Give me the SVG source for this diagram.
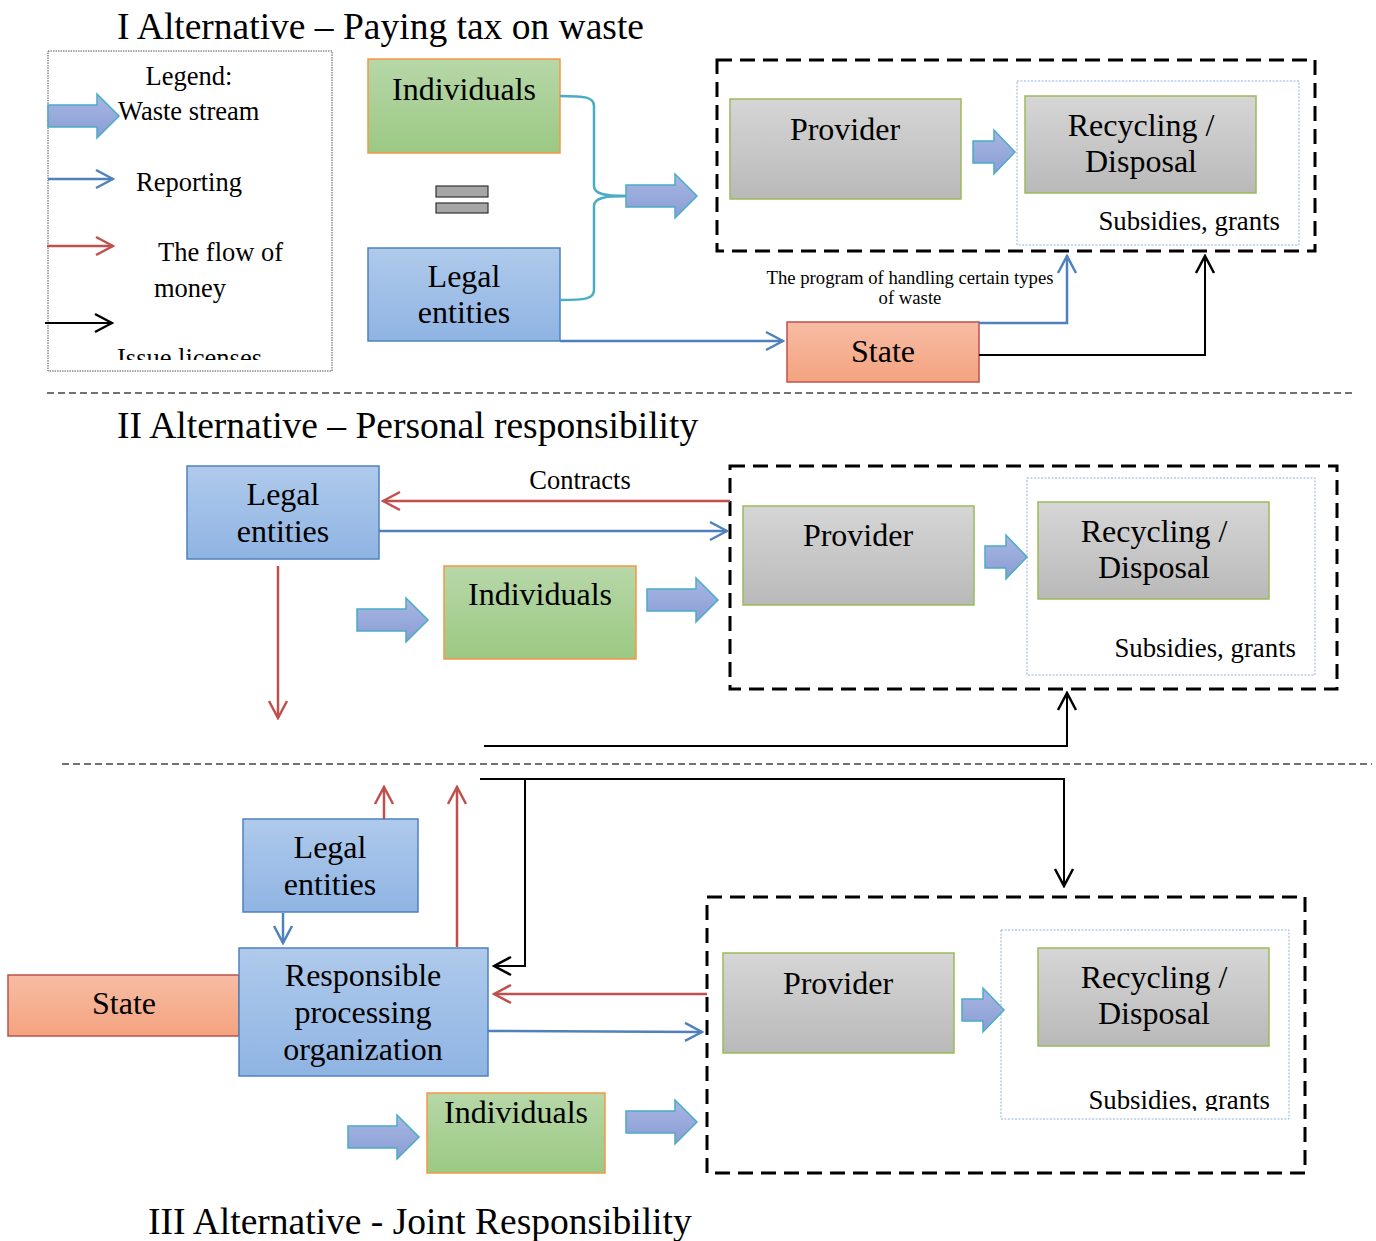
<svg xmlns="http://www.w3.org/2000/svg" xmlns:xlink="http://www.w3.org/1999/xlink" width="1376" height="1241" viewBox="0 0 1376 1241">
<style>
text{font-family:"Liberation Serif","Times New Roman",serif;fill:#000}
.title{font-size:37.5px}
.node{font-size:32px;text-anchor:middle}
.leg{font-size:26.5px}
.sub{font-size:26.8px;text-anchor:end}
.ind{stroke:#f79646;stroke-width:1.5}
.leg-ent{stroke:#4f81bd;stroke-width:1.5}
.gray{stroke:#9bbb59;stroke-width:1.5}
.state{stroke:#c0504d;stroke-width:1.5}
.dash{fill:none;stroke:#000;stroke-width:3;stroke-dasharray:15 8}
.dot{fill:#fff;stroke:#8db3e2;stroke-width:1;stroke-dasharray:2 1.5}
.div{fill:none;stroke:#444;stroke-width:1.3;stroke-dasharray:7 4}
.blue{fill:none;stroke:#4f81bd;stroke-width:2.5}
.red{fill:none;stroke:#c0504d;stroke-width:2.5}
.blk{fill:none;stroke:#000;stroke-width:2}
.teal{fill:none;stroke:#4bacc6;stroke-width:2.5}
</style>
<defs>
<linearGradient id="gGreen" x1="0" y1="0" x2="0" y2="1"><stop offset="0" stop-color="#b7d7a8"/><stop offset="1" stop-color="#9bc983"/></linearGradient>
<linearGradient id="gBlue" x1="0" y1="0" x2="0" y2="1"><stop offset="0" stop-color="#afcaeb"/><stop offset="1" stop-color="#8fb4e3"/></linearGradient>
<linearGradient id="gGray" x1="0" y1="0" x2="0" y2="1"><stop offset="0" stop-color="#d6d6d6"/><stop offset="1" stop-color="#b9b9b9"/></linearGradient>
<linearGradient id="gSalmon" x1="0" y1="0" x2="0" y2="1"><stop offset="0" stop-color="#f7bca4"/><stop offset="1" stop-color="#f4a37f"/></linearGradient>
<linearGradient id="gArrow" x1="0" y1="0" x2="0" y2="1"><stop offset="0" stop-color="#a7b7e3"/><stop offset="1" stop-color="#8a9cd4"/></linearGradient>
<path id="bigArrow" d="M0,-11 H49 V-22 L71,0 L49,22 V11 H0 Z" fill="url(#gArrow)" stroke="#4bacc6" stroke-width="1.5"/>
<path id="smallArrow" d="M0,-11 H21 V-22 L42,0 L21,22 V11 H0 Z" fill="url(#gArrow)" stroke="#4bacc6" stroke-width="1.5"/>
<marker id="mb" viewBox="-20 -12 22 24" refX="0" refY="0" markerWidth="22" markerHeight="24" markerUnits="userSpaceOnUse" orient="auto"><path d="M-17,-9 L0,0 L-17,9" fill="none" stroke="#4f81bd" stroke-width="2.5"/></marker>
<marker id="mr" viewBox="-20 -12 22 24" refX="0" refY="0" markerWidth="22" markerHeight="24" markerUnits="userSpaceOnUse" orient="auto"><path d="M-17,-9 L0,0 L-17,9" fill="none" stroke="#c0504d" stroke-width="2.5"/></marker>
<marker id="mk" viewBox="-20 -12 22 24" refX="0" refY="0" markerWidth="22" markerHeight="24" markerUnits="userSpaceOnUse" orient="auto"><path d="M-17,-9 L0,0 L-17,9" fill="none" stroke="#000" stroke-width="2.5"/></marker>
<clipPath id="legClip"><rect x="48" y="51" width="284" height="309"/></clipPath>
<clipPath id="subClip"><rect x="1001" y="930" width="288" height="181"/></clipPath>
</defs>
<rect width="1376" height="1241" fill="#fff"/>

<!-- Titles and dividers -->
<text class="title" x="117" y="39">I Alternative – Paying tax on waste</text>
<text class="title" x="117" y="438">II Alternative – Personal responsibility</text>
<text class="title" x="148" y="1234">III Alternative - Joint Responsibility</text>
<line class="div" x1="47" y1="393" x2="1355" y2="393"/>
<line class="div" x1="62" y1="764" x2="1372" y2="764"/>

<!-- Legend -->
<g id="legend">
<rect x="48" y="51" width="284" height="320" fill="#fff" stroke="#555" stroke-width="1" stroke-dasharray="1.5 1"/>
<text class="leg" x="189" y="85" text-anchor="middle">Legend:</text>
<use href="#bigArrow" x="48" y="116"/>
<text class="leg" x="118" y="120">Waste stream</text>
<line class="blue" x1="48" y1="179" x2="113" y2="179" marker-end="url(#mb)"/>
<text class="leg" x="136" y="191">Reporting</text>
<line class="red" x1="47" y1="246" x2="113" y2="246" marker-end="url(#mr)"/>
<text class="leg" x="158" y="261">The flow of</text>
<text class="leg" x="154" y="297">money</text>
<line class="blk" x1="45" y1="323" x2="112" y2="323" marker-end="url(#mk)"/>
<text class="leg" x="117" y="367" clip-path="url(#legClip)">Issue licenses</text>
</g>

<!-- Section I -->
<g id="ind1"><rect class="ind" x="368" y="59" width="192" height="94" fill="url(#gGreen)"/><text class="node" x="464" y="100">Individuals</text></g>
<g id="equals"><rect x="436" y="186" width="52" height="11" fill="#a6a6a6" stroke="#333" stroke-width="1.2"/><rect x="436" y="203" width="52" height="10" fill="#a6a6a6" stroke="#333" stroke-width="1.2"/></g>
<g id="leg1"><rect class="leg-ent" x="368" y="248" width="192" height="93" fill="url(#gBlue)"/><text class="node" x="464" y="287">Legal</text><text class="node" x="464" y="323">entities</text></g>
<g id="cont1"><rect class="dash" x="717" y="60" width="598" height="191"/></g>
<g id="prov1"><rect class="gray" x="730" y="99" width="231" height="100" fill="url(#gGray)"/><text class="node" x="845" y="140">Provider</text></g>
<g id="recbox1"><rect class="dot" x="1017" y="81" width="282" height="164"/><text class="sub" x="1280" y="230">Subsidies, grants</text></g>
<g id="rec1"><rect class="gray" x="1025" y="96" width="231" height="97" fill="url(#gGray)"/><text class="node" x="1141" y="136">Recycling /</text><text class="node" x="1141" y="172">Disposal</text></g>
<g id="state1"><rect class="state" x="787" y="322" width="192" height="60" fill="url(#gSalmon)"/><text class="node" x="883" y="362">State</text></g>
<text x="910" y="284" text-anchor="middle" style="font-size:18.7px">The program of handling certain types</text>
<text x="910" y="304" text-anchor="middle" style="font-size:18.7px">of waste</text>

<!-- Section II -->
<g id="leg2"><rect class="leg-ent" x="187" y="466" width="192" height="93" fill="url(#gBlue)"/><text class="node" x="283" y="505">Legal</text><text class="node" x="283" y="542">entities</text></g>
<g id="ind2"><rect class="ind" x="444" y="566" width="192" height="93" fill="url(#gGreen)"/><text class="node" x="540" y="605">Individuals</text></g>
<g id="cont2"><rect class="dash" x="730" y="466" width="607" height="223"/></g>
<g id="prov2"><rect class="gray" x="743" y="506" width="231" height="99" fill="url(#gGray)"/><text class="node" x="858" y="546">Provider</text></g>
<g id="recbox2"><rect class="dot" x="1027" y="478" width="288" height="197"/><text class="sub" x="1296" y="657">Subsidies, grants</text></g>
<g id="rec2"><rect class="gray" x="1038" y="502" width="231" height="97" fill="url(#gGray)"/><text class="node" x="1154" y="542">Recycling /</text><text class="node" x="1154" y="578">Disposal</text></g>
<text x="580" y="489" text-anchor="middle" style="font-size:26.5px">Contracts</text>

<!-- Section III -->
<g id="leg3"><rect class="leg-ent" x="243" y="819" width="175" height="93" fill="url(#gBlue)"/><text class="node" x="330" y="858">Legal</text><text class="node" x="330" y="895">entities</text></g>
<g id="state3"><rect class="state" x="8" y="975" width="231" height="61" fill="url(#gSalmon)"/><text class="node" x="124" y="1014">State</text></g>
<g id="rpo"><rect class="leg-ent" x="239" y="948" width="249" height="128" fill="url(#gBlue)"/><text class="node" x="363" y="986">Responsible</text><text class="node" x="363" y="1023">processing</text><text class="node" x="363" y="1060">organization</text></g>
<g id="ind3"><rect class="ind" x="427" y="1093" width="178" height="80" fill="url(#gGreen)"/><text class="node" x="516" y="1123">Individuals</text></g>
<g id="cont3"><rect class="dash" x="707" y="897" width="598" height="276"/></g>
<g id="prov3"><rect class="gray" x="723" y="953" width="231" height="100" fill="url(#gGray)"/><text class="node" x="838" y="994">Provider</text></g>
<g id="recbox3"><rect class="dot" x="1001" y="930" width="288" height="189"/><text class="sub" x="1270" y="1109" clip-path="url(#subClip)">Subsidies, grants</text></g>
<g id="rec3"><rect class="gray" x="1038" y="948" width="231" height="98" fill="url(#gGray)"/><text class="node" x="1154" y="988">Recycling /</text><text class="node" x="1154" y="1024">Disposal</text></g>

<!-- Connectors -->
<g id="connectors">
<path class="teal" d="M560,96 C585,96 594,97 594,106 V186 C594,194 605,196 626,196"/>
<path class="teal" d="M560,300 C585,300 594,299 594,290 V206 C594,198 605,196 626,196"/>
<use href="#bigArrow" x="626" y="196"/>
<use href="#smallArrow" x="973" y="152"/>
<path class="blue" d="M560,341 H783" marker-end="url(#mb)"/>
<path class="blue" d="M979,323 H1067 V256" marker-end="url(#mb)"/>
<path class="blk" d="M979,355 H1205 V256" marker-end="url(#mk)"/>

<path class="red" d="M730,501 H383" marker-end="url(#mr)"/>
<path class="blue" d="M379,531 H727" marker-end="url(#mb)"/>
<path class="red" d="M278,566 V718" marker-end="url(#mr)"/>
<use href="#bigArrow" x="357" y="620"/>
<use href="#bigArrow" x="647" y="600"/>
<use href="#smallArrow" x="985" y="557"/>
<path class="blk" d="M484,746 H1067 V693" marker-end="url(#mk)"/>

<path class="blk" d="M480,779 H1064 V886" marker-end="url(#mk)"/>
<path class="blk" d="M525,779 V966 H494" marker-end="url(#mk)"/>
<path class="red" d="M384,819 V787" marker-end="url(#mr)"/>
<path class="red" d="M457,947 V787" marker-end="url(#mr)"/>
<path class="blue" d="M283,913 V943" marker-end="url(#mb)"/>
<path class="red" d="M707,994 H494" marker-end="url(#mr)"/>
<path class="blue" d="M488,1031 L702,1032" marker-end="url(#mb)"/>
<use href="#bigArrow" x="348" y="1137"/>
<use href="#bigArrow" x="626" y="1122"/>
<use href="#smallArrow" x="962" y="1010"/>
</g>
</svg>
